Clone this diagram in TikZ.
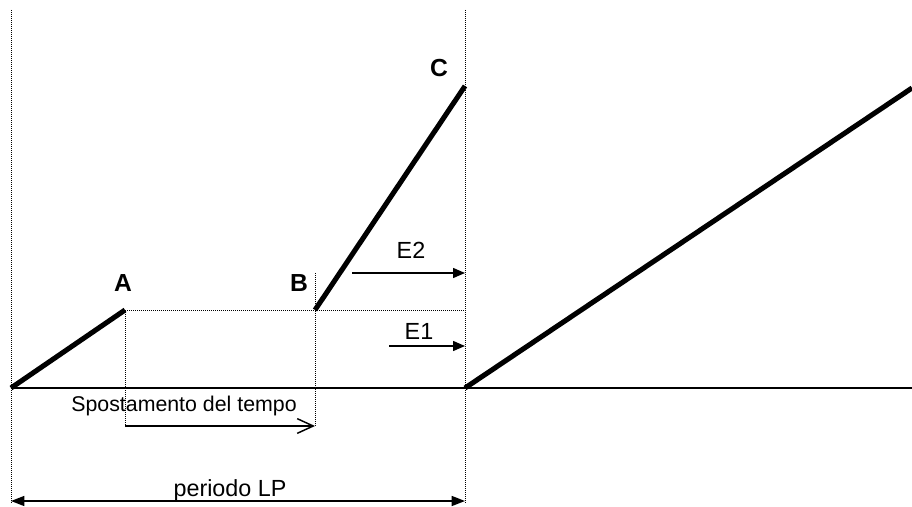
\documentclass[tikz,border=0pt]{standalone}
\usepackage{fontspec}
\setmainfont{Liberation Sans}
\usetikzlibrary{arrows.meta, positioning}

\begin{document}
\begin{tikzpicture}[
        x=0.75pt, y=-0.75pt,
        % rampe e asse dei tempi
        ramp/.style={line width=3.8pt},
        timeaxis/.style={line width=1.9pt},
        guide/.style={line width=0.6pt, dash pattern=on 0.75pt off 0.75pt},
        % frecce
        offset/.style={line width=1.1pt, -{Triangle[length=9pt,width=7.5pt]}},
        shiftarrow/.style={line width=1.1pt, -{Straight Barb[length=12pt,width=11pt,line width=1.1pt]}},
        period/.style={line width=1.1pt, {Triangle[length=10pt,width=7.5pt]}-{Triangle[length=10pt,width=7.5pt]}},
        ptlabel/.style={font=\fontsize{18.5}{21}\selectfont\bfseries, inner sep=0pt},
        txt/.style={font=\fontsize{17.5}{20}\selectfont, inner sep=0pt}
    ]
        \useasboundingbox (0,0) rectangle (912,506);

        % Punti principali
        \coordinate (O) at (11,388);
        \coordinate (A) at (125,310);
        \coordinate (B) at (315,310);
        \coordinate (C) at (465,86);
        \coordinate (T) at (465,388);
        \coordinate (R) at (912,388);
        \coordinate (Rtop) at (912,88);

        % Linee guida tratteggiate
        \coordinate (Ltop) at (11,10);
        \coordinate (Lbot) at (11,504);
        \coordinate (Ttop) at (465,10);
        \coordinate (Tbot) at (465,504);
        \coordinate (Adown) at (125,426);
        \coordinate (Bup) at (315,273);
        \coordinate (Bdown) at (315,426);
        \coordinate (Tmid) at (465,310);

        \draw[guide] (Ltop) -- (Lbot);
        \draw[guide] (Ttop) -- (Tbot);
        \draw[guide] (A) -- (Tmid);
        \draw[guide] (A) -- (Adown);
        \draw[guide] (Bup) -- (Bdown);

        % Asse e rampe
        \draw[timeaxis] (O) -- (R);
        \draw[ramp] (O) -- (A);
        \draw[ramp] (B) -- (C);
        \draw[ramp] (T) -- (Rtop);

        % Etichette dei punti
        \node[ptlabel] (lblA) at (123,283) {A};
        \node[ptlabel] (lblB) at (299,283) {B};
        \node[ptlabel] (lblC) at (439,68) {C};

        % Frecce E1 / E2
        \coordinate (e2start) at (352,273);
        \coordinate (e2end) at (465,273);
        \coordinate (e1start) at (389,346);
        \coordinate (e1end) at (465,346);
        \draw[offset] (e2start) -- (e2end);
        \draw[offset] (e1start) -- (e1end);
        \node[txt] (lblE2) at (411,250) {E2};
        \node[txt] (lblE1) at (419,331) {E1};

        % Spostamento del tempo
        \draw[shiftarrow] (Adown) -- (Bdown);
        \node[txt, font=\fontsize{16}{19}\selectfont] (lblshift) at (184,406) {Spostamento del tempo};

        % Periodo
        \coordinate (pstart) at (11,501);
        \coordinate (pend) at (465,501);
        \draw[period] (pstart) -- (pend);
        \node[txt] (lblperiod) at (230,490) {periodo LP};
    \end{tikzpicture}
\end{document}
